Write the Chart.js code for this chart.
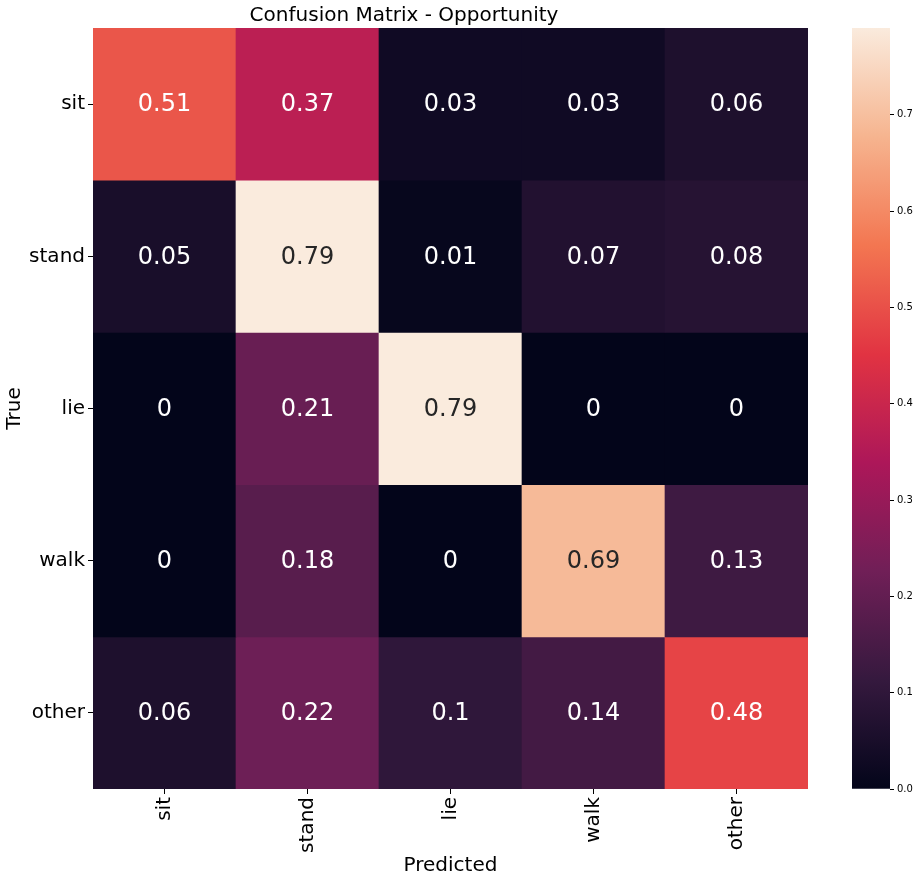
<!DOCTYPE html>
<html>
<head>
<meta charset="utf-8">
<script src="https://cdn.jsdelivr.net/npm/chart.js@4.4.1/dist/chart.umd.min.js"></script>
<style>
  body { margin: 0; background: #fff; }
  #wrap { position: relative; width: 920px; height: 882px; }
  #heat { position: absolute; left: 0; top: 0; }
  #cbar { position: absolute; left: 840px; top: 0; }
</style>
</head>
<body>
<div id="wrap">
  <canvas id="heat" width="840" height="882"></canvas>
  <canvas id="cbar" width="80" height="882"></canvas>
</div>
<script>
// data
var predLabels = ["sit", "stand", "lie", "walk", "other"];
var trueLabels = ["sit", "stand", "lie", "walk", "other"];
var sitRow   = [0.51, 0.37, 0.03, 0.03, 0.06];
var standRow = [0.05, 0.79, 0.01, 0.07, 0.08];
var lieRow   = [0,    0.21, 0.79, 0,    0];
var walkRow  = [0,    0.18, 0,    0.69, 0.13];
var otherRow = [0.06, 0.22, 0.1,  0.14, 0.48];
var matrix = [sitRow, standRow, lieRow, walkRow, otherRow];
var cbarTicks = [0, 0.1, 0.2, 0.3, 0.4, 0.5, 0.6, 0.7];
var vmin = 0, vmax = 0.79;

// rocket colormap stops
var rocket = [
  [0.0,   [3, 5, 26]],
  [0.143, [53, 25, 62]],
  [0.286, [112, 31, 87]],
  [0.429, [173, 23, 89]],
  [0.571, [225, 51, 66]],
  [0.714, [243, 118, 81]],
  [0.857, [246, 180, 143]],
  [1.0,   [250, 235, 221]]
];
function rocketRGB(t) {
  t = Math.max(0, Math.min(1, t));
  for (var i = 1; i < rocket.length; i++) {
    if (t <= rocket[i][0]) {
      var a = rocket[i - 1], b = rocket[i];
      var f = (t - a[0]) / (b[0] - a[0]);
      return [0, 1, 2].map(function (k) { return Math.round(a[1][k] + (b[1][k] - a[1][k]) * f); });
    }
  }
  return rocket[rocket.length - 1][1];
}
function cellColor(v) {
  var c = rocketRGB((v - vmin) / (vmax - vmin));
  return "rgb(" + c.join(",") + ")";
}
function textColor(v) {
  var c = rocketRGB((v - vmin) / (vmax - vmin)).map(function (x) {
    x = x / 255;
    return x <= 0.03928 ? x / 12.92 : Math.pow((x + 0.055) / 1.055, 2.4);
  });
  var l = 0.2126 * c[0] + 0.7152 * c[1] + 0.0722 * c[2];
  return l > 0.408 ? "#262626" : "#ffffff";
}

Chart.defaults.font.family = "'DejaVu Sans', sans-serif";
Chart.defaults.color = "#000";

var annotate = {
  id: "annotate",
  afterDatasetsDraw: function (chart) {
    var ctx = chart.ctx;
    ctx.save();
    ctx.font = "24px 'DejaVu Sans', sans-serif";
    ctx.textAlign = "center";
    ctx.textBaseline = "middle";
    chart.data.datasets.forEach(function (ds, r) {
      chart.getDatasetMeta(r).data.forEach(function (el, c) {
        var v = matrix[r][c];
        ctx.fillStyle = textColor(v);
        ctx.fillText(String(v), el.x, (el.y + el.base) / 2 + 1);
      });
    });
    ctx.restore();
  }
};

var datasets = matrix.map(function (row, r) {
  return {
    label: trueLabels[r],
    data: row.map(function () { return [r, r + 1]; }),
    backgroundColor: row.map(cellColor),
    borderWidth: 0,
    barPercentage: 1,
    categoryPercentage: 1,
    grouped: false
  };
});

new Chart(document.getElementById("heat"), {
  type: "bar",
  data: { labels: predLabels, datasets: datasets },
  plugins: [annotate],
  options: {
    responsive: false,
    animation: false,
    layout: { padding: { left: 0, right: 32, top: 0, bottom: 0 } },
    plugins: {
      legend: { display: false },
      tooltip: { enabled: false },
      title: {
        display: true,
        text: "Confusion Matrix - Opportunity",
        font: { size: 20, weight: "normal" },
        color: "#000",
        padding: { top: 4, bottom: 0 }
      }
    },
    scales: {
      x: {
        type: "category",
        offset: true,
        grid: { display: true, drawOnChartArea: false, offset: false, tickLength: 5, color: "#000" },
        border: { display: false },
        ticks: { font: { size: 20 }, color: "#000", minRotation: 90, maxRotation: 90, padding: 3 },
        title: { display: true, text: "Predicted", font: { size: 20 }, color: "#000", padding: { top: 0, bottom: 4 } },
        afterFit: function (s) { s.height = 93; }
      },
      y: {
        type: "linear",
        min: 0,
        max: 5,
        reverse: true,
        afterBuildTicks: function (s) {
          s.ticks = trueLabels.map(function (l, i) { return { value: i + 0.5 }; });
        },
        ticks: {
          font: { size: 20 },
          color: "#000",
          padding: 3,
          autoSkip: false,
          callback: function (v) { return trueLabels[Math.floor(v)]; }
        },
        grid: { display: true, drawOnChartArea: false, tickLength: 5, color: "#000" },
        border: { display: false },
        title: { display: true, text: "True", font: { size: 20 }, color: "#000", padding: { top: 3, bottom: 0 } },
        afterFit: function (s) { s.width = 93; }
      }
    }
  }
});

// colorbar
new Chart(document.getElementById("cbar"), {
  type: "bar",
  data: {
    labels: [""],
    datasets: [{
      data: [[vmin, vmax]],
      borderWidth: 0,
      barPercentage: 1,
      categoryPercentage: 1,
      backgroundColor: function (ctx) {
        var area = ctx.chart.chartArea;
        if (!area) return "#000";
        var g = ctx.chart.ctx.createLinearGradient(0, area.bottom, 0, area.top);
        rocket.forEach(function (s) { g.addColorStop(s[0], "rgb(" + s[1].join(",") + ")"); });
        return g;
      }
    }]
  },
  options: {
    responsive: false,
    animation: false,
    layout: { padding: { left: 12, right: 0, top: 28, bottom: 93 } },
    plugins: { legend: { display: false }, tooltip: { enabled: false } },
    scales: {
      x: { display: false },
      y: {
        position: "right",
        min: vmin,
        max: vmax,
        afterBuildTicks: function (s) {
          s.ticks = cbarTicks.map(function (v) { return { value: v }; });
        },
        ticks: {
          font: { size: 10 },
          color: "#000",
          padding: 3,
          callback: function (v) { return v.toFixed(1); }
        },
        grid: { display: true, drawOnChartArea: false, tickLength: 4, color: "#000" },
        border: { display: false },
        afterFit: function (s) { s.width = 30; }
      }
    }
  }
});
</script>
</body>
</html>
